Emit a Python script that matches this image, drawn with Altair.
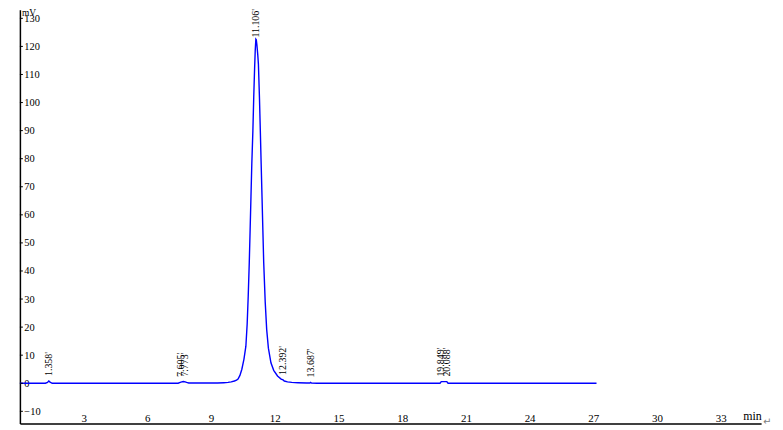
import altair as alt
import pandas as pd

# chromatogram trace (min, mV)
times = [0.0, 1.20, 1.30, 1.36, 1.42, 1.52, 7.45, 7.55, 7.62, 7.70, 7.78, 7.85, 7.95,
         9.30, 9.60, 9.80, 9.95, 10.10, 10.20, 10.27, 10.36, 10.45, 10.55, 10.64, 10.70,
         10.75, 10.80, 10.84, 10.88, 10.92, 10.97, 11.01, 11.05, 11.08, 11.11, 11.13,
         11.16, 11.20, 11.23, 11.28, 11.32, 11.36, 11.40, 11.44, 11.48, 11.55, 11.62,
         11.70, 11.82, 11.95, 12.13, 12.30, 12.39, 12.45, 12.60, 12.80, 13.10, 13.50,
         13.65, 13.69, 13.73, 14.00, 19.78, 19.84, 20.10, 20.16, 27.15]
signal = [0.0, 0.0, 0.3, 0.8, 0.4, 0.0, 0.0, 0.3, 0.5, 0.6, 0.5, 0.3, 0.1,
          0.1, 0.2, 0.3, 0.5, 0.8, 1.1, 1.5, 2.8, 5.0, 8.6, 13.2, 21.0,
          31.0, 43.0, 54.6, 66.5, 78.4, 90.0, 101.9, 112.0, 118.5, 122.6, 122.4,
          120.5, 117.0, 113.7, 101.5, 90.0, 78.0, 66.4, 54.5, 42.9, 29.0, 19.1,
          12.5, 7.3, 4.6, 2.6, 1.5, 1.2, 0.8, 0.5, 0.3, 0.2, 0.1,
          0.1, 0.3, 0.1, 0.0, 0.0, 0.6, 0.6, 0.0, 0.0]

# peak annotations (small peaks)
peak_times = [1.358, 7.605, 7.773, 12.392, 13.687, 19.849, 20.088]
peak_heights = [0.8, 0.5, 0.6, 1.2, 0.3, 0.6, 0.6]
peak_labels = ["1.358'", "7.605'", "7.773'", "12.392'", "13.687'", "19.849'", "20.088'"]
# main peak annotation
main_time = [11.106]
main_height = [122.6]
main_label = ["11.106'"]

x_ticks = [3, 6, 9, 12, 15, 18, 21, 24, 27, 30, 33]
y_ticks = [-10, 0, 10, 20, 30, 40, 50, 60, 70, 80, 90, 100, 110, 120, 130]

FONT = "Liberation Serif"
X_DOMAIN = [0, 34.9]
Y_DOMAIN = [-14.3, 133.1]

trace = pd.DataFrame({"t": times, "v": signal})
peaks = pd.DataFrame({"t": peak_times, "v": peak_heights, "label": peak_labels})
mainpk = pd.DataFrame({"t": main_time, "v": main_height, "label": main_label})
yt = pd.DataFrame({"v": y_ticks})

xs = alt.Scale(domain=X_DOMAIN, nice=False, zero=False)
ys = alt.Scale(domain=Y_DOMAIN, nice=False, zero=False)

x_axis = alt.Axis(
    values=x_ticks, title=None, grid=False, ticks=False, tickSize=0,
    domainColor="black", domainWidth=1.5, labelColor="black",
    labelFont=FONT, labelFontSize=11, labelBaseline="alphabetic",
    labelPadding=-1.5, labelFlush=False, labelOverlap=False)
y_axis = alt.Axis(
    values=y_ticks, title=None, grid=False, ticks=False, tickSize=0,
    domainColor="black", domainWidth=1.5, labelColor="black",
    labelFont=FONT, labelFontSize=10.5, labelAlign="left", labelBaseline="middle",
    labelPadding=-4, labelFlush=False, labelOverlap=False)

X = alt.X("t:Q", scale=xs, axis=x_axis)
Y = alt.Y("v:Q", scale=ys, axis=y_axis)

line = alt.Chart(trace).mark_line(color="#0000FF", strokeWidth=1.4, interpolate="linear").encode(
    x=X, y=Y,
)

ticks = alt.Chart(yt).mark_rule(color="black", strokeWidth=1).encode(
    y=Y, x=alt.value(0), x2=alt.value(3),
)

labels = alt.Chart(peaks).mark_text(
    angle=270, align="left", baseline="middle", dx=5, font=FONT, fontSize=10, color="black"
).encode(x=X, y=Y, text="label:N")

mlabel = alt.Chart(mainpk).mark_text(
    angle=270, align="left", baseline="middle", dx=1.5, font=FONT, fontSize=10, color="black"
).encode(x=X, y=Y, text="label:N")

mv = alt.Chart(pd.DataFrame({"s": ["mV"]})).mark_text(
    align="left", baseline="alphabetic", font=FONT, fontSize=9.5, color="black"
).encode(x=alt.value(2), y=alt.value(6.5), text="s:N")

mn = alt.Chart(pd.DataFrame({"s": ["min"]})).mark_text(
    align="left", baseline="alphabetic", font=FONT, fontSize=12, color="black"
).encode(x=alt.value(729), y=alt.value(414), text="s:N")

ret = alt.Chart(pd.DataFrame({"s": ["↵"]})).mark_text(
    align="left", baseline="alphabetic", font="DejaVu Sans", fontSize=10, color="#808080"
).encode(x=alt.value(749), y=alt.value(419), text="s:N")

chart = alt.layer(line, ticks, labels, mlabel, mv, mn, ret).properties(
    width=747, height=417,
    background="white",
    autosize=alt.AutoSizeParams(type="none"),
    padding={"left": 12, "top": 0, "right": 14, "bottom": 4},
).configure_view(stroke=None, strokeWidth=0)

chart.save("out.html", embed_options={"renderer": "svg", "actions": False})
